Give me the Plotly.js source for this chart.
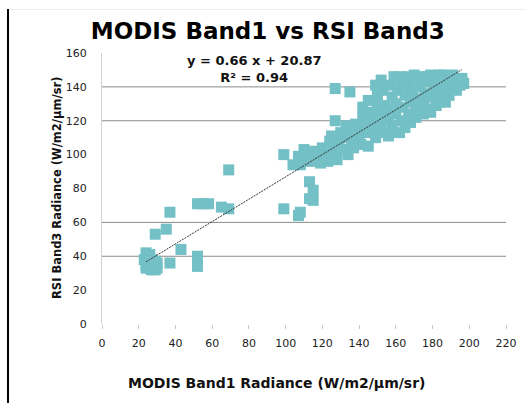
<!DOCTYPE html>
<html>
<head>
<meta charset="utf-8">
<script src="https://cdn.plot.ly/plotly-3.0.1.min.js"></script>
<style>
  html, body { margin: 0; padding: 0; background: #fff; }
  #chart { width: 525px; height: 403px; position: relative; }
  #frameLeft { position: absolute; left: 7px; top: 9px; width: 2px; height: 394px; background: #000; }
  #frameTop { position: absolute; left: 9px; top: 9px; width: 516px; height: 1px; background: #ececec; }
</style>
</head>
<body>
<div id="chart"></div>
<div id="frameLeft"></div>
<div id="frameTop"></div>
<script>
// MODIS Band1 radiance (x) vs RSI Band3 radiance (y)
const modisBand1 = [
  24,25,23,25,24,26,24,27,29,30,28,27,29,26,30,
  29,35,37,37,43,52,52,52,52,55,58,65,69,69,
  99,99,107,108,113,115,115,113,
  104,107,108,110,112,113,115,117,119,120,122,123,124,125,126,127,128,129,130,131,132,133,134,135,136,137,138,139,140,141,142,142,143,144,145,146,147,148,149,150,150,151,152,153,153,154,155,156,156,157,158,158,159,160,160,161,162,163,163,164,165,165,166,167,167,168,168,169,170,171,171,172,173,174,175,175,176,177,178,179,179,180,181,182,182,183,184,185,186,187,187,188,189,190,191,192,193,194,195,196,197,
  127,135,149,152,145,127,162,170,177,184,190,196
];
const rsiBand3 = [
  42,40,38,37,35,33,33,32,32,33,35,38,37,41,36,
  53,56,66,36,44,40,37,34,71,71,71,69,68,91,
  100,68,64,66,84,79,73,74,
  94,99,94,103,100,96,102,98,95,104,100,96,108,111,104,100,97,107,113,110,103,117,100,112,107,104,118,114,110,106,122,128,117,113,105,125,120,116,110,130,135,124,119,138,113,129,126,111,121,141,134,117,146,130,124,138,113,144,120,128,135,116,146,141,124,119,131,137,145,127,122,133,140,146,124,130,136,143,127,125,147,134,140,145,129,136,131,142,147,131,138,144,135,140,147,142,138,145,141,143,142,
  139,137,141,144,132,120,146,147,146,147,146,145
];
// Linear fit shown on the chart
const fitSlope = [0.66];
const fitIntercept = [20.87];
const fitRSquared = [0.94];
const fitXRange = [24, 196];
const xTickVals = [0,20,40,60,80,100,120,140,160,180,200,220];
const yTickVals = [0,20,40,60,80,100,120,140,160];
const gridVals = [40,60,120,140];

const fitY = fitXRange.map(x => fitSlope[0] * x + fitIntercept[0]);
const FONT = '"DejaVu Sans", Verdana, sans-serif';

const traces = [
  {
    type: 'scatter', mode: 'markers',
    x: modisBand1, y: rsiBand3,
    marker: { symbol: 'square', size: 11, color: '#73c0c6', line: { width: 0 } },
    hoverinfo: 'x+y', showlegend: false
  },
  {
    type: 'scatter', mode: 'lines',
    x: fitXRange, y: fitY,
    line: { color: '#333', width: 1, dash: '2px,1px' },
    hoverinfo: 'skip', showlegend: false
  }
];

const layout = {
  width: 525, height: 403,
  paper_bgcolor: '#fff', plot_bgcolor: '#fff',
  margin: { l: 102, r: 19, t: 53, b: 79 },
  font: { family: FONT, color: '#222' },
  showlegend: false,
  title: {
    text: '<b>MODIS Band1 vs RSI Band3</b>',
    font: { size: 23, color: '#000', family: FONT },
    x: 0.51, xanchor: 'center', xref: 'container',
    y: 1 - 31 / 403, yanchor: 'middle', yref: 'container'
  },
  xaxis: {
    range: [0, 220], tickvals: xTickVals, ticktext: xTickVals.map(String),
    showgrid: false, zeroline: false, showline: false,
    ticks: 'outside', ticklen: 4, tickcolor: '#c8c8c8', tickwidth: 1,
    ticklabelstandoff: 5,
    tickfont: { size: 11, color: '#222', family: FONT },
    fixedrange: true
  },
  yaxis: {
    range: [0, 160], tickvals: yTickVals, ticktext: yTickVals.map(String),
    showgrid: false, zeroline: false,
    showline: true, linecolor: '#d0d0d0', linewidth: 1,
    ticks: '', ticklabelstandoff: 12,
    tickfont: { size: 11, color: '#222', family: FONT },
    fixedrange: true
  },
  shapes: gridVals.map(v => ({
    type: 'line', layer: 'below', xref: 'paper', yref: 'y',
    x0: 0, x1: 1, y0: v, y1: v,
    line: { color: '#8a8a8a', width: 1 }
  })),
  annotations: [
    { text: '<b>y = ' + fitSlope[0].toFixed(2) + ' x + ' + fitIntercept[0].toFixed(2) + '</b><br><b>R² = ' + fitRSquared[0].toFixed(2) + '</b>',
      xref: 'paper', yref: 'paper',
      x: (254 - 102) / 404, y: (324 - 69) / 271, xanchor: 'center', yanchor: 'middle',
      showarrow: false, font: { size: 13, color: '#111', family: FONT } },
    { text: '<b>MODIS Band1 Radiance (W/m2/µm/sr)</b>',
      xref: 'paper', yref: 'paper',
      x: (277 - 102) / 404, y: (324 - 383) / 271, xanchor: 'center', yanchor: 'middle',
      showarrow: false, font: { size: 14, color: '#111', family: FONT } },
    { text: '<b>RSI Band3 Radiance (W/m2/µm/sr)</b>', textangle: -90,
      xref: 'paper', yref: 'paper',
      x: (57 - 102) / 404, y: (324 - 188) / 271, xanchor: 'center', yanchor: 'middle',
      showarrow: false, font: { size: 11.5, color: '#111', family: FONT } }
  ]
};

Plotly.newPlot('chart', traces, layout, { displayModeBar: false, staticPlot: true });
</script>
</body>
</html>
